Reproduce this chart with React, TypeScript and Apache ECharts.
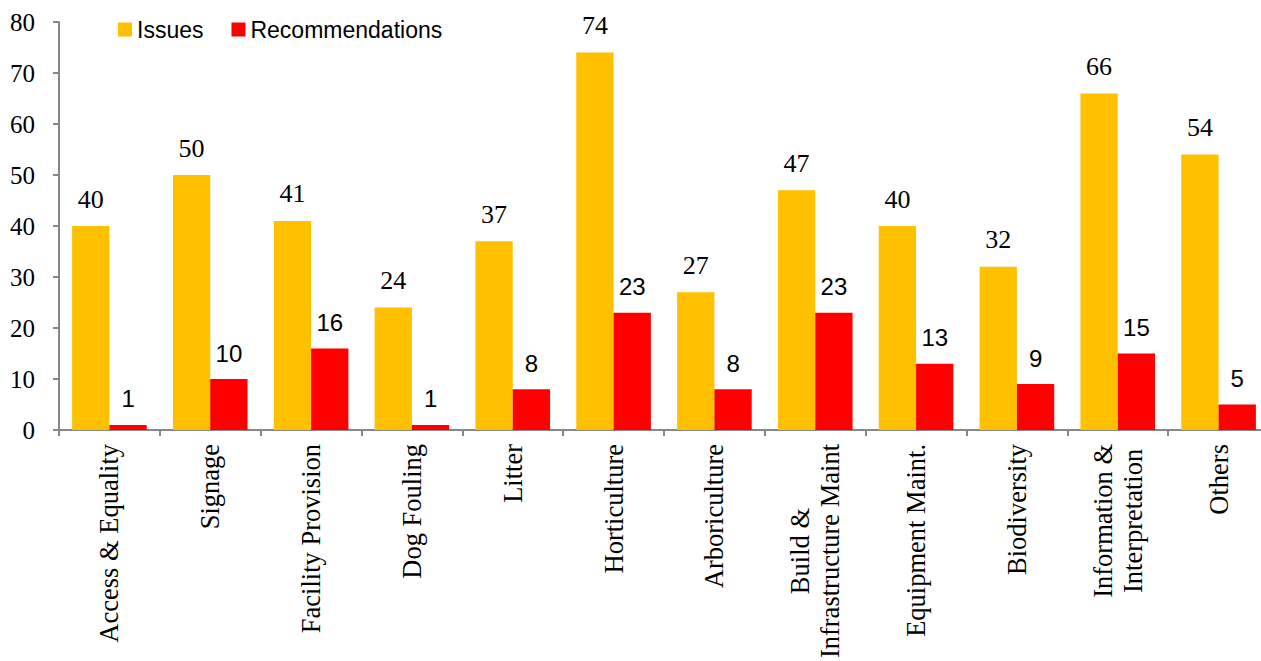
import React, { useEffect, useRef } from "react";
import * as echarts from "echarts";

const categories = [
  "Access & Equality",
  "Signage",
  "Facility Provision",
  "Dog Fouling",
  "Litter",
  "Horticulture",
  "Arboriculture",
  "Build &\nInfrastructure Maint",
  "Equipment Maint.",
  "Biodiversity",
  "Information &\nInterpretation",
  "Others",
];
const issues = [40, 50, 41, 24, 37, 74, 27, 47, 40, 32, 66, 54];
const recommendations = [1, 10, 16, 1, 8, 23, 8, 23, 13, 9, 15, 5];
const yTicks = { min: 0, max: 80, interval: 10 };

const SERIF = "'Liberation Serif', 'Times New Roman', serif";
const SANS = "'Liberation Sans', Arial, sans-serif";

export default function App() {
  const ref = useRef<HTMLDivElement>(null);
  useEffect(() => {
    if (!ref.current) return;
    const chart = echarts.init(ref.current, null, { renderer: "svg" });
    chart.setOption({
      animation: false,
      backgroundColor: "#ffffff",
      legend: {
        left: 113,
        top: 13,
        itemWidth: 14,
        itemHeight: 14,
        itemGap: 28,
        icon: "rect",
        textStyle: { fontFamily: SANS, fontSize: 23, color: "#000" },
        data: ["Issues", "Recommendations"],
      },
      grid: {
        left: 59,
        right: -8,
        top: 22,
        bottom: 231,
        containLabel: false,
        outerBoundsMode: "none",
      },
      xAxis: {
        type: "category",
        data: categories,
        axisLine: { lineStyle: { color: "#878787", width: 2 } },
        axisTick: { show: true, length: 6, lineStyle: { color: "#878787", width: 2 } },
        axisLabel: {
          interval: 0,
          rotate: 90,
          margin: 14,
          color: "#000",
          fontFamily: SERIF,
          fontSize: 26.5,
          formatter: (v: string) =>
            v
              .split("\n")
              .map((l) => `{c|${l}}`)
              .join("\n"),
          rich: {
            c: { align: "center", fontFamily: SERIF, fontSize: 26.5, lineHeight: 30, color: "#000" },
          },
        },
      },
      yAxis: {
        type: "value",
        min: yTicks.min,
        max: yTicks.max,
        interval: yTicks.interval,
        splitLine: { show: false },
        axisLine: { show: true, lineStyle: { color: "#878787", width: 2 } },
        axisTick: { show: true, length: 6, lineStyle: { color: "#878787", width: 2 } },
        axisLabel: { margin: 24, color: "#000", fontFamily: SERIF, fontSize: 25 },
      },
      series: [
        {
          name: "Issues",
          type: "bar",
          data: issues,
          barGap: "0%",
          barCategoryGap: "26%",
          itemStyle: { color: "#FFC000" },
          label: {
            show: true,
            position: "top",
            distance: 14,
            color: "#000",
            fontFamily: SERIF,
            fontSize: 26,
          },
        },
        {
          name: "Recommendations",
          type: "bar",
          data: recommendations,
          barGap: "0%",
          barCategoryGap: "26%",
          itemStyle: { color: "#FF0000" },
          label: {
            show: true,
            position: "top",
            distance: 14,
            color: "#000",
            fontFamily: SANS,
            fontSize: 24,
          },
        },
      ],
    });
    return () => chart.dispose();
  }, []);
  return (
    <div
      ref={ref}
      style={{ position: "fixed", left: 0, top: 0, width: 1261, height: 661, background: "#fff" }}
    />
  );
}
